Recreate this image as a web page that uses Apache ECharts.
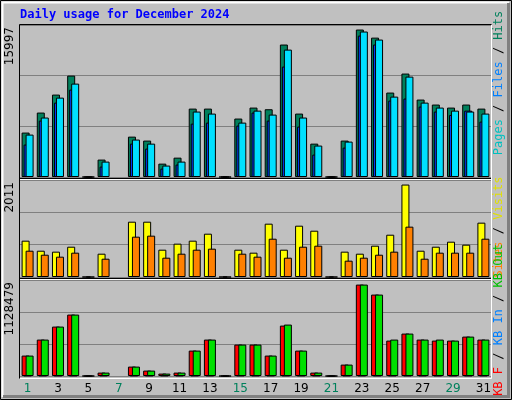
<!DOCTYPE html>
<html><head><meta charset="utf-8">
<script src="https://cdn.jsdelivr.net/npm/echarts@6/dist/echarts.min.js"></script>
<style>html,body{margin:0;padding:0;background:#c0c0c0}#c{width:512px;height:400px}</style>
</head><body><div id="c"></div>
<script>
const days = ['1','2','3','4','5','6','7','8','9','10','11','12','13','14','15','16','17','18','19','20','21','22','23','24','25','26','27','28','29','30','31'];
const weekendDays = ['1','7','8','14','15','21','22','28','29'];
const hits  = [4820,6990,8940,11000,0,1890,'-',4380,3950,1450,2100,7420,7420,0,6340,7530,7350,14370,6880,3620,0,3950,15997,15120,9160,11220,8400,7860,7530,7860,7420];
const files = [4600,6450,8610,10130,0,1670,'-',4060,3620,1240,1670,7100,6880,0,5900,7200,6770,13820,6450,3410,0,3840,15780,14910,8720,10890,8070,7530,7200,7100,6880];
const pages = [3520,6120,8070,9480,0,1130,'-',3620,3080,910,1350,5790,5900,0,5580,6990,6120,11980,5470,2430,0,3190,15340,14370,8290,8510,7640,7100,6730,7200,6010];
const visits = [790,572,551,659,0,507,'-',1203,1203,594,725,790,942,0,594,529,1160,594,1116,1007,0,551,507,681,920,2011,572,659,768,703,1182];
const sites  = [572,485,442,529,0,398,'-',877,899,420,507,594,616,0,507,442,833,420,659,681,0,355,420,485,551,1095,398,529,529,529,833];
const kbF   = [251900,449400,609900,758000,0,42000,'-',116100,66700,29600,42000,313600,449400,0,387700,387700,251900,622200,313600,42000,0,140700,1128479,1005000,437000,523500,449400,437000,437000,486400,449400];
const kbIn  = [6000,6000,6000,6000,0,6000,'-',6000,6000,6000,6000,6000,6000,0,6000,6000,6000,6000,6000,6000,0,6000,6000,6000,6000,6000,6000,6000,6000,6000,6000];
const kbOut = [251900,449400,609900,758000,0,42000,'-',116100,66700,29600,42000,313600,449400,0,387700,387700,251900,634600,313600,42000,0,140700,1128479,1005000,449400,523500,449400,449400,437000,486400,449400];
const maxLabels = ['15997','2011','1128479'];
const maxes = [16490, 2110, 1185000];

const chart = echarts.init(document.getElementById('c'), null, {renderer:'canvas'});
const F = 'DejaVu Sans';
const grids = [
  {left:20, width:471, top:25, height:152},
  {left:20, width:471, top:180, height:97},
  {left:20, width:471, top:280, height:96}
];
const xAxes = grids.map((g,i)=>({
  type:'category', gridIndex:i, data:days,
  axisLine:{show:false}, axisTick:{show:false},
  axisLabel: i===2 ? {show:true, fontFamily:F, fontSize:12, margin:7,
    color:(v)=> weekendDays.includes(v) ? '#00805c' : '#000'} : {show:false}
}));
const yAxes = grids.map((g,i)=>({
  type:'value', gridIndex:i, min:0, max:maxes[i], interval:maxes[i]/3,
  axisLabel:{show:false}, axisLine:{show:false}, axisTick:{show:false},
  splitLine:{show:true, lineStyle:{color:'#808080', width:1}}
}));
function bar(name, data, gi, color, gap){
  return {type:'bar', name, data, xAxisIndex:gi, yAxisIndex:gi, barWidth:8, barGap:gap,
    itemStyle:{color, borderColor:'#000', borderWidth:1}, animation:false, silent:true};
}
function vtext(x, cy, parts){
  return {type:'text', x, y:cy, rotation:Math.PI/2,
    style:{text:parts.map(p=>'{'+p[1]+'|'+p[0]+'}').join(''), rich:Object.fromEntries(parts.map(p=>[p[1],{fill:p[2], fontFamily:'DejaVu Sans Mono', fontSize:12}])),
      align:'center', verticalAlign:'middle'}};
}
const graphic = [
  {type:'rect', shape:{x:0.5,y:0.5,width:511,height:399}, style:{fill:'none', stroke:'#000', lineWidth:1}, z:-1},
  {type:'polyline', shape:{points:[[2.5,397],[2.5,2.5],[509,2.5]]}, style:{stroke:'#fff', fill:'none', lineWidth:2}},
  {type:'polyline', shape:{points:[[3,396.5],[508.5,396.5],[508.5,3]]}, style:{stroke:'#808080', fill:'none', lineWidth:3}},
  {type:'polyline', shape:{points:[[19.5,378.5],[19.5,24.5],[491.5,24.5]]}, style:{stroke:'#000', fill:'none', lineWidth:1}},
  {type:'polyline', shape:{points:[[20,378.5],[491.5,378.5],[491.5,25]]}, style:{stroke:'#fff', fill:'none', lineWidth:1}},
  {type:'line', shape:{x1:20,y1:178.5,x2:491,y2:178.5}, style:{stroke:'#000', lineWidth:1}},
  {type:'line', shape:{x1:20,y1:179.5,x2:491,y2:179.5}, style:{stroke:'#fff', lineWidth:1}},
  {type:'line', shape:{x1:20,y1:278.5,x2:491,y2:278.5}, style:{stroke:'#000', lineWidth:1}},
  {type:'line', shape:{x1:20,y1:279.5,x2:491,y2:279.5}, style:{stroke:'#fff', lineWidth:1}},
  {type:'text', x:20, y:9, style:{text:'Daily usage for December 2024', fill:'#0000ff', fontFamily:'DejaVu Sans Mono', fontWeight:'bold', fontSize:12}},
  {type:'text', x:10, y:27, rotation:Math.PI/2, style:{text:maxLabels[0], fill:'#000', fontFamily:F, fontSize:12, align:'right', verticalAlign:'middle'}},
  {type:'text', x:10, y:182, rotation:Math.PI/2, style:{text:maxLabels[1], fill:'#000', fontFamily:F, fontSize:12, align:'right', verticalAlign:'middle'}},
  {type:'text', x:10, y:282, rotation:Math.PI/2, style:{text:maxLabels[2], fill:'#000', fontFamily:F, fontSize:12, align:'right', verticalAlign:'middle'}},
  vtext(499, 83, [['Pages','a','#00c0c0'],[' / ','s','#000'],['Files','b','#0080ff'],[' / ','s','#000'],['Hits','c','#00805c']]),
  vtext(499, 227, [['Sites','a','#ff8000'],[' / ','s','#000'],['Visits','b','#e0e000']]),
  vtext(499, 320, [['KB F','a','#ff0000'],[' / ','s','#000'],['KB In','b','#0080ff'],[' / ','s','#000'],['KB Out','c','#00c000']])
];
chart.setOption({
  backgroundColor:'#c0c0c0', animation:false,
  grid: grids, xAxis: xAxes, yAxis: yAxes, graphic,
  series:[
    bar('Hits', hits, 0, '#00805c', '-75%'),
    bar('Pages', pages, 0, '#0040ff', '-75%'),
    bar('Files', files, 0, '#00e0ff', '-75%'),
    bar('Visits', visits, 1, '#ffff00', '-50%'),
    bar('Sites', sites, 1, '#ff8000', '-50%'),
    bar('KB F', kbF, 2, '#ff0000', '-75%'),
    bar('KB In', kbIn, 2, '#0080ff', '-75%'),
    bar('KB Out', kbOut, 2, '#00e000', '-75%')
  ]
});
</script></body></html>
